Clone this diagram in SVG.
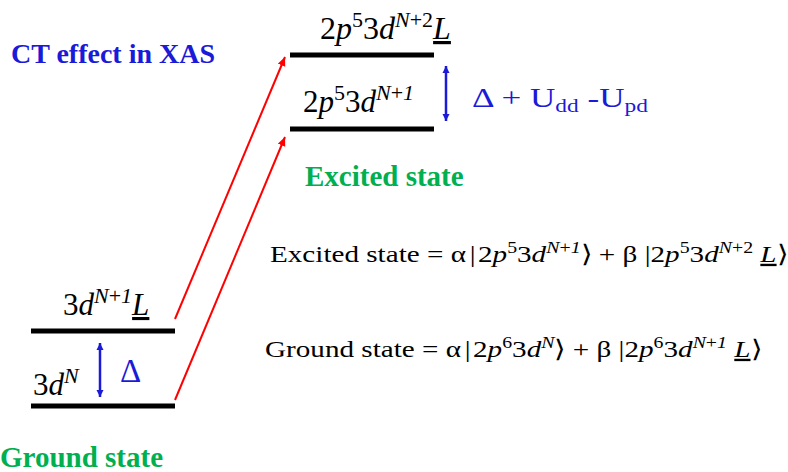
<svg xmlns="http://www.w3.org/2000/svg" width="788" height="472" viewBox="0 0 788 472">
<style>
text{font-family:"Liberation Serif","Times New Roman",serif;fill:#000}
.i{font-style:italic}
.u{text-decoration:underline}
.title{font-weight:bold;fill:#1a1ad8;font-size:28px}
.green{font-weight:bold;fill:#00b050;font-size:29px}
.blue{fill:#1a1ad8}
.level{stroke:#000;stroke-width:5;fill:none}
.red{stroke:#ff0000;stroke-width:2;fill:none;marker-end:url(#ah-red)}
.barrow{stroke:#1a1ad8;stroke-width:2.5;fill:none;marker-start:url(#ah-blue-s);marker-end:url(#ah-blue)}
</style>
<defs>
<marker id="ah-red" markerUnits="userSpaceOnUse" markerWidth="10" markerHeight="10" refX="9" refY="4" orient="auto"><path d="M0,0 L9,4 L0,8 Z" fill="#ff0000"/></marker>
<marker id="ah-blue" markerUnits="userSpaceOnUse" markerWidth="8" markerHeight="8" refX="7" refY="3.5" orient="auto"><path d="M0,0 L7,3.5 L0,7 Z" fill="#1a1ad8"/></marker>
<marker id="ah-blue-s" markerUnits="userSpaceOnUse" markerWidth="8" markerHeight="8" refX="0" refY="3.5" orient="auto"><path d="M7,0 L0,3.5 L7,7 Z" fill="#1a1ad8"/></marker>
</defs>

<text id="title" class="title" x="11" y="63">CT effect in XAS</text>

<g id="excited-top">
<line class="level" x1="290" y1="55" x2="434" y2="55"/>
<text x="320" y="39" font-size="32">2<tspan class="i">p</tspan><tspan font-size="22" dy="-12">5</tspan><tspan dy="12">3</tspan><tspan class="i">d</tspan><tspan font-size="22" dy="-12"><tspan class="i">N</tspan>+2</tspan><tspan class="i u" dy="12">L</tspan></text>
</g>

<g id="excited-bottom">
<line class="level" x1="290" y1="129" x2="434" y2="129"/>
<text x="303" y="112" font-size="31">2<tspan class="i">p</tspan><tspan font-size="22" dy="-12">5</tspan><tspan dy="12">3</tspan><tspan class="i">d</tspan><tspan font-size="22" dy="-12"><tspan class="i">N</tspan>+<tspan class="i">1</tspan></tspan></text>
</g>

<g id="excited-gap">
<text class="blue" transform="translate(472,107) scale(1.3,1)" font-size="27">Δ + U<tspan font-size="18" dy="5">dd</tspan><tspan dy="-5"> -U</tspan><tspan font-size="18" dy="5">pd</tspan></text>
</g>

<text id="excited-label" class="green" x="305" y="186">Excited state</text>

<g id="ground-top">
<line class="level" x1="31" y1="331" x2="175" y2="331"/>
<text x="63" y="315" font-size="31">3<tspan class="i">d</tspan><tspan font-size="22" dy="-12"><tspan class="i">N</tspan>+<tspan class="i">1</tspan></tspan><tspan class="i u" dy="12">L</tspan></text>
</g>

<g id="ground-bottom">
<line class="level" x1="31" y1="406" x2="175" y2="406"/>
<text x="33" y="395" font-size="31">3<tspan class="i">d</tspan><tspan font-size="22" dy="-12" class="i">N</tspan></text>
</g>

<g id="ground-gap">
<text class="blue" x="120" y="382" font-size="33">Δ</text>
</g>

<text id="ground-label" class="green" x="0" y="467" font-size="30">Ground state</text>

<g id="eq-excited">
<text transform="translate(270,262) scale(1.24,1)" font-size="23.5">Excited state = α<tspan dx="3">|</tspan><tspan dx="2">2</tspan><tspan class="i">p</tspan><tspan font-size="16" dy="-9">5</tspan><tspan dy="9">3</tspan><tspan class="i">d</tspan><tspan font-size="16" dy="-9"><tspan class="i">N</tspan>+<tspan class="i">1</tspan></tspan><tspan dy="9">⟩ + β  |2</tspan><tspan class="i">p</tspan><tspan font-size="16" dy="-9">5</tspan><tspan dy="9">3</tspan><tspan class="i">d</tspan><tspan font-size="16" dy="-9"><tspan class="i">N</tspan>+2</tspan><tspan dy="9"> </tspan><tspan class="i u">L</tspan>⟩</text>
</g>

<g id="eq-ground">
<text transform="translate(265,357) scale(1.24,1)" font-size="23.5">Ground state = α<tspan dx="3">|</tspan><tspan dx="2">2</tspan><tspan class="i">p</tspan><tspan font-size="16" dy="-9">6</tspan><tspan dy="9">3</tspan><tspan class="i">d</tspan><tspan font-size="16" dy="-9" class="i">N</tspan><tspan dy="9">⟩ + β  |2</tspan><tspan class="i">p</tspan><tspan font-size="16" dy="-9">6</tspan><tspan dy="9">3</tspan><tspan class="i">d</tspan><tspan font-size="16" dy="-9"><tspan class="i">N</tspan>+<tspan class="i">1</tspan></tspan><tspan dy="9"> </tspan><tspan class="i u">L</tspan>⟩</text>
</g>

<g id="connectors">
<line class="red" x1="175" y1="319" x2="285" y2="57"/>
<line class="red" x1="175" y1="400" x2="285" y2="137"/>
<line class="barrow" x1="446" y1="66" x2="446" y2="121"/>
<line class="barrow" x1="100" y1="343" x2="100" y2="397"/>
</g>
</svg>
